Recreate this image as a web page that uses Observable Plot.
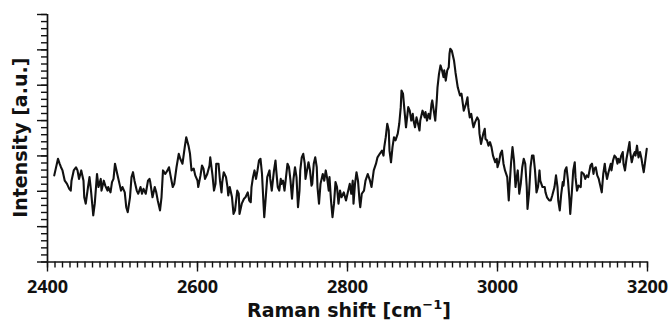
<!DOCTYPE html>
<html><head><meta charset="utf-8">
<script src="https://cdn.jsdelivr.net/npm/d3@7"></script>
<script src="https://cdn.jsdelivr.net/npm/@observablehq/plot@0.6"></script>
<style>html,body{margin:0;padding:0;background:#fff}#chart svg{display:block}</style>
</head><body><div id="chart"></div>
<script>
// Raman shift (cm^-1)
const shift = [
2409,2414,2416,2418,2420,2423,2426,2429,
2431,2432,2435,2438,2440,2442,2445,2448,
2449,2451,2454,2456,2458,2461,2463,2466,
2468,2471,2472,2475,2477,2480,2481,2484,
2486,2488,2490,2493,2496,2498,2500,2503,
2505,2507,2510,2512,2514,2516,2519,2521,
2524,2526,2528,2531,2534,2536,2537,2540,
2543,2545,2547,2550,2552,2554,2557,2560,
2562,2564,2567,2569,2572,2575,2577,2580,
2583,2585,2588,2590,2592,2595,2597,2600,
2601,2604,2606,2608,2610,2613,2616,2617,
2620,2622,2624,2625,2628,2630,2632,2633,
2635,2638,2640,2641,2643,2646,2648,2650,
2653,2655,2656,2659,2662,2664,2667,2669,
2671,2672,2674,2676,2678,2680,2682,2684,
2686,2688,2689,2691,2693,2696,2697,2699,
2702,2704,2705,2707,2709,2711,2712,2714,
2716,2719,2720,2722,2724,2726,2728,2730,
2732,2734,2736,2737,2739,2741,2743,2744,
2746,2748,2750,2752,2753,2755,2757,2759,
2760,2762,2764,2767,2769,2771,2773,2775,
2776,2778,2780,2782,2784,2786,2788,2790,
2792,2795,2798,2800,2803,2805,2807,2808,
2810,2812,2814,2816,2817,2819,2822,2824,
2827,2830,2832,2835,2838,2840,2843,2846,
2848,2849,2851,2853,2855,2856,2858,2860,
2862,2864,2867,2869,2871,2872,2874,2876,
2878,2880,2881,2883,2885,2887,2888,2890,
2892,2894,2896,2897,2900,2903,2904,2906,
2908,2910,2912,2913,2915,2917,2919,2920,
2922,2924,2926,2928,2929,2931,2933,2935,
2936,2937,2939,2942,2944,2947,2950,2952,
2955,2958,2960,2961,2963,2965,2967,2968,
2970,2973,2975,2976,2978,2981,2983,2984,
2986,2988,2990,2992,2994,2997,2999,3000,
3002,3004,3006,3008,3010,3013,3015,3016,
3018,3020,3022,3024,3025,3027,3029,3031,
3033,3035,3037,3039,3040,3042,3044,3046,
3048,3050,3052,3054,3056,3057,3060,3063,
3064,3066,3069,3071,3073,3076,3078,3080,
3081,3083,3085,3087,3088,3090,3092,3094,
3096,3097,3099,3101,3103,3104,3106,3108,
3111,3112,3115,3117,3119,3121,3124,3126,
3128,3129,3131,3133,3135,3137,3139,3141,
3143,3144,3146,3148,3151,3152,3154,3156,
3158,3160,3161,3163,3165,3167,3168,3170,
3172,3174,3176,3177,3179,3181,3183,3184,
3186,3188,3190,3192,3193,3195,3197,3199
];
// Intensity (a.u.)
const intensity = [
2.45,2.92,2.79,2.68,2.59,2.30,2.21,2.07,
2.02,2.30,2.59,2.68,2.59,2.35,2.59,2.30,
1.83,1.65,2.12,2.40,2.02,1.32,1.65,2.49,
2.12,2.35,2.02,2.30,2.16,2.02,2.12,1.97,
2.26,2.35,2.78,2.49,2.21,2.02,2.12,1.97,
1.55,1.41,1.83,2.40,2.54,2.30,2.02,1.93,
2.12,1.93,2.07,1.93,2.30,2.35,2.26,1.83,
2.12,1.97,1.74,1.46,1.83,2.59,2.49,2.59,
2.68,2.45,2.12,2.21,2.68,3.06,2.92,2.78,
3.25,3.53,3.29,3.06,2.59,2.64,2.45,2.30,
2.12,2.45,2.73,2.64,2.35,2.49,2.73,2.96,
2.45,2.02,2.21,2.78,2.78,2.30,1.97,2.26,
2.54,2.40,2.12,1.88,2.12,1.83,1.36,1.46,
2.02,1.93,1.36,1.65,1.79,1.83,1.97,1.74,
1.69,2.12,2.40,2.59,2.35,2.59,2.87,2.92,
2.49,1.65,1.27,1.83,2.40,2.59,2.35,2.02,
2.59,2.87,2.59,2.12,2.02,2.35,2.21,2.30,
2.02,2.59,2.78,2.68,2.30,1.79,2.35,2.68,
2.40,1.55,2.02,2.59,2.96,3.06,2.78,2.35,
2.59,2.82,2.59,2.16,2.21,2.78,2.96,2.68,
2.12,1.65,2.21,2.49,2.30,2.59,2.35,2.02,
2.40,1.74,1.27,1.65,2.26,2.12,1.65,2.02,
1.83,1.97,1.74,1.93,2.21,1.93,2.30,1.65,
2.21,2.54,2.30,1.74,1.55,1.93,2.02,2.30,
2.49,2.30,2.12,2.59,2.78,2.96,3.06,3.15,
3.01,3.25,3.53,3.91,3.72,3.15,2.82,3.25,
3.53,3.44,3.63,3.91,4.38,4.85,4.76,4.28,
3.81,4.19,4.38,4.28,4.00,4.19,4.00,3.81,
4.09,3.91,3.72,4.00,4.28,4.09,4.24,4.00,
4.19,4.05,4.47,4.57,4.28,4.00,4.57,4.94,
5.32,5.56,5.42,5.23,5.42,5.13,5.42,5.51,
5.89,6.03,5.98,5.70,5.36,4.94,4.71,4.76,
4.28,4.47,4.66,4.38,4.09,4.19,3.91,3.81,
3.95,4.09,4.00,3.63,3.34,3.63,3.77,3.48,
3.44,3.29,3.39,3.25,3.01,2.82,2.92,2.68,
2.82,3.06,3.15,2.78,2.59,2.40,1.74,2.12,
2.78,3.25,2.87,2.12,2.30,2.59,1.93,2.21,
2.68,2.92,2.78,2.12,1.50,1.93,2.68,3.01,
3.01,2.59,1.97,2.12,2.59,2.30,2.12,2.12,
1.97,1.83,1.74,1.74,1.88,2.12,2.45,2.12,
1.74,1.46,1.93,2.26,2.16,2.59,2.68,2.30,
1.74,1.36,1.93,2.59,2.82,2.40,2.02,2.16,
2.12,2.54,2.49,2.35,2.45,2.40,2.73,2.78,
2.49,2.64,2.68,2.45,2.35,2.16,1.97,2.49,
2.78,2.59,2.35,2.54,2.78,2.59,2.87,3.01,
2.96,2.78,2.92,2.82,3.01,3.11,2.78,2.59,
2.92,3.15,3.39,3.11,2.82,3.01,3.11,3.01,
3.29,2.96,3.11,2.92,2.78,2.54,2.87,3.20
];
// Tick labels / positions
const xMajorTicks = [2400, 2600, 2800, 3000, 3200];
const xMinorTicks = d3.range(2400, 3201, 10);
const yMajorTicks = [0, 1, 2, 3, 4, 5, 6, 7];
const yMinorTicks = d3.range(0, 7.001, 0.2);
const yLabel = "Intensity [a.u.]";
const xLabelMain = "Raman shift [cm";
const xLabelSup = "\u22121";
const xLabelEnd = "]";

const n = Math.min(shift.length, intensity.length);
const data = d3.range(n).map(i => ({shift: shift[i], intensity: intensity[i]}));

const ink = "#111";
const plot = Plot.plot({
  width: 670,
  height: 322,
  marginLeft: 47,
  marginRight: 23,
  marginTop: 14,
  marginBottom: 60.5,
  style: {fontFamily: "'Open Sans', sans-serif", fontWeight: "bold", fontSize: "18px", background: "white", color: ink},
  x: {domain: [2400, 3200]},
  y: {domain: [0, 7]},
  marks: [
    Plot.axisX(xMinorTicks, {tickSize: 6, tickFormat: () => "", strokeWidth: 1.4, label: null}),
    Plot.axisX(xMajorTicks, {tickSize: 10, tickPadding: 8.5, strokeWidth: 1.4, label: null, tickFormat: d => String(d), fontSize: 18, fontWeight: "bold"}),
    Plot.axisY(yMinorTicks, {tickSize: 6, tickFormat: () => "", strokeWidth: 1.4, label: null}),
    Plot.axisY(yMajorTicks, {tickSize: 10, tickFormat: () => "", strokeWidth: 1.4, label: null}),
    Plot.ruleX([2400], {stroke: ink, strokeWidth: 1.7}),
    Plot.ruleY([0], {stroke: ink, strokeWidth: 1.7}),
    Plot.line(data, {x: "shift", y: "intensity", stroke: ink, strokeWidth: 2.1, strokeLinejoin: "round"})
  ]
});

const svg = d3.select(plot);
svg.append("text")
  .attr("transform", "translate(27,137.75) rotate(-90)")
  .attr("text-anchor", "middle")
  .attr("fill", ink)
  .style("font", "bold 19px 'DejaVu Sans', sans-serif")
  .text(yLabel);
const xl = svg.append("text")
  .attr("x", 349).attr("y", 317)
  .attr("text-anchor", "middle")
  .attr("fill", ink)
  .style("font", "bold 19px 'DejaVu Sans', sans-serif");
xl.append("tspan").text(xLabelMain);
xl.append("tspan").attr("dy", -8).style("font-size", "13px").text(xLabelSup);
xl.append("tspan").attr("dy", 8).text(xLabelEnd);

document.getElementById("chart").appendChild(plot);
</script>
</body></html>
